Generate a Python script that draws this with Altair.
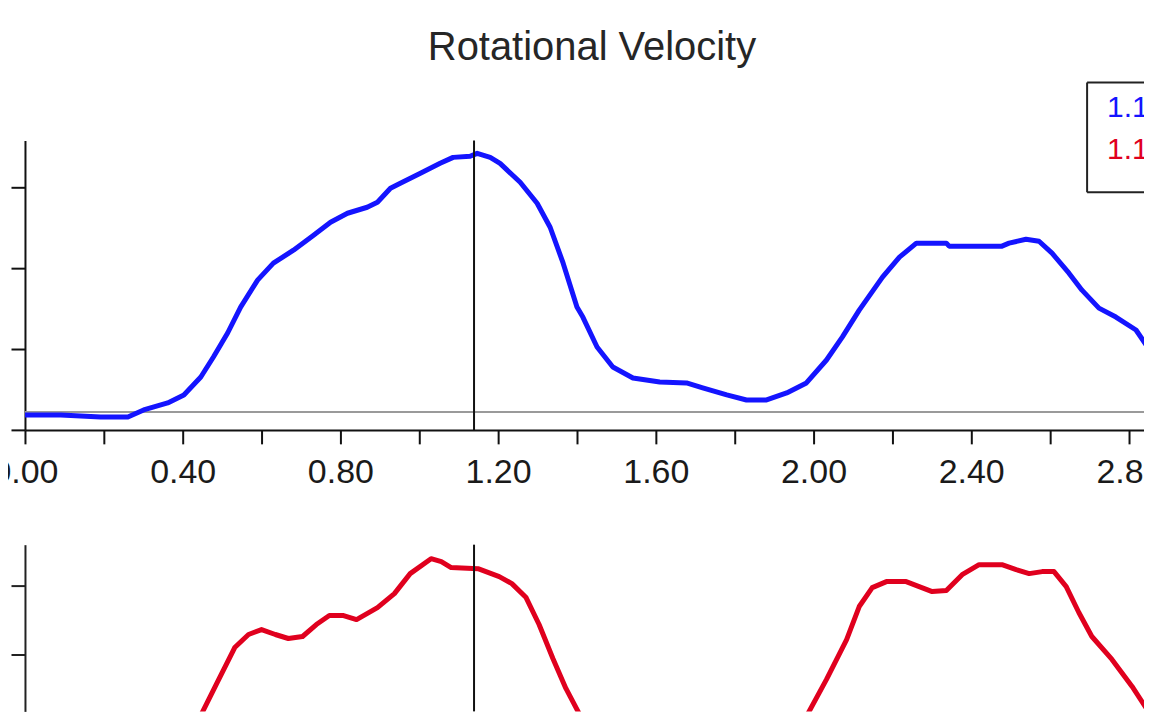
import altair as alt
import pandas as pd

# ---- data ----
blue_t = [0.000, 0.091, 0.192, 0.261, 0.301, 0.362, 0.403, 0.446, 0.478, 0.514, 0.547, 0.590,
          0.630, 0.681, 0.732, 0.775, 0.818, 0.868, 0.894, 0.927, 0.952, 1.003, 1.053, 1.086,
          1.129, 1.147, 1.180, 1.205, 1.256, 1.299, 1.332, 1.365, 1.400, 1.415, 1.451, 1.491,
          1.542, 1.610, 1.678, 1.719, 1.780, 1.830, 1.881, 1.932, 1.982, 2.033, 2.073, 2.116,
          2.175, 2.218, 2.261, 2.337, 2.344, 2.478, 2.496, 2.539, 2.572, 2.605, 2.648, 2.681,
          2.724, 2.767, 2.818, 2.856]
blue_v = [18.5, 18.5, 16.0, 16.0, 24.7, 33.3, 43.2, 65.4, 90.1, 119.8, 151.9, 185.2,
          206.2, 222.2, 240.7, 256.8, 267.9, 275.3, 281.5, 298.8, 304.9, 317.3, 329.6, 337.0,
          338.3, 342.0, 337.0, 329.6, 306.2, 280.2, 250.6, 206.2, 151.9, 139.5, 102.5, 77.8,
          64.2, 59.3, 58.0, 51.9, 43.2, 37.0, 37.0, 45.7, 58.0, 86.4, 114.8, 148.1,
          188.9, 213.6, 230.9, 230.9, 227.2, 227.2, 230.9, 235.8, 233.3, 218.5, 193.8, 172.8,
          150.6, 139.5, 123.5, 96.3]

red_t = [0.446, 0.489, 0.532, 0.567, 0.600, 0.635, 0.668, 0.704, 0.739, 0.772, 0.808, 0.841,
         0.894, 0.937, 0.977, 1.030, 1.056, 1.081, 1.149, 1.203, 1.235, 1.271, 1.304, 1.339,
         1.372, 1.408,
         1.982, 2.033, 2.084, 2.116, 2.149, 2.185, 2.235, 2.268, 2.301, 2.337, 2.377, 2.420,
         2.478, 2.514, 2.547, 2.580, 2.610, 2.641, 2.673, 2.706, 2.757, 2.808, 2.851]
red_v = [11.6, 60.9, 110.1, 129.0, 136.2, 129.0, 123.2, 126.1, 143.5, 156.5, 156.5, 150.7,
         168.1, 188.4, 217.4, 239.1, 234.8, 226.1, 224.6, 213.0, 202.9, 182.6, 143.5, 94.2,
         50.7, 11.6,
         10.1, 63.8, 121.7, 169.6, 197.1, 205.8, 205.8, 198.6, 191.3, 192.8, 215.9, 230.4,
         230.4, 223.2, 217.4, 220.3, 220.3, 198.6, 160.9, 126.1, 92.8, 53.6, 15.9]
red_seg = [1] * 26 + [2] * 23

cursor_t = [1.139]
threshold_v = [22.2]
legend_labels = ["1.14", "1.14"]
legend_colors = ["#1414ff", "#e0001e"]

x_ticks = [round(i * 0.2, 1) for i in range(15)]
top_y_ticks = [0, 100, 200, 300]
bottom_y_ticks = [100, 200]

X_DOMAIN = [0, 2.856]
W = 1128
FONT = "Liberation Sans"

blue_df = pd.DataFrame({"t": blue_t, "v": blue_v})
red_df = pd.DataFrame({"t": red_t, "v": red_v, "seg": red_seg})
cursor_df = pd.DataFrame({"t": cursor_t})
thr_df = pd.DataFrame({"v": threshold_v})
leg_df = pd.DataFrame({"label": legend_labels, "color": legend_colors, "py": [-32, 10]})

x_top = alt.X("t:Q", scale=alt.Scale(domain=X_DOMAIN, nice=False, zero=False),
              axis=alt.Axis(values=x_ticks, title=None, grid=False,
                            labelExpr="round(datum.value*10) % 4 == 0 ? format(datum.value, '.2f') : ''",
                            labelFont=FONT, labelFontSize=34, labelColor="#1a1a1a",
                            labelPadding=12, tickSize=14, tickWidth=2, tickColor="#111",
                            domainColor="#111", domainWidth=2, labelOverlap=False,
                            labelFlush=False))
y_top_scale = alt.Scale(domain=[0, 358], nice=False, zero=False)
y_top_axis = alt.Axis(values=top_y_ticks, labels=False, title=None, grid=False,
                      tickSize=14, tickWidth=2, tickColor="#111",
                      domainColor="#111", domainWidth=2)

thr = alt.Chart(thr_df).mark_rule(color="#9a9a9a", strokeWidth=2).encode(
    y=alt.Y("v:Q", scale=y_top_scale, axis=y_top_axis))
blue = alt.Chart(blue_df).mark_line(color="#1414ff", strokeWidth=5, strokeJoin="round",
                                    clip=True).encode(
    x=x_top, y=alt.Y("v:Q", scale=y_top_scale, axis=y_top_axis))
cur_top = alt.Chart(cursor_df).mark_rule(color="#111", strokeWidth=2).encode(x="t:Q")

box_lines = alt.Chart(pd.DataFrame({"k": ["top", "bottom"], "yy": [-58, 52]})).mark_rule(
    color="#222", strokeWidth=2).encode(
    x=alt.value(1064), x2=alt.value(W + 2), y=alt.Y("yy:Q", scale=None))
box_left = alt.Chart(pd.DataFrame({"k": [0]})).mark_rule(color="#222", strokeWidth=2).encode(
    x=alt.value(1064), y=alt.value(-58), y2=alt.value(52))
leg_text = alt.Chart(leg_df).mark_text(font=FONT, fontSize=30, align="left",
                                       baseline="middle").encode(
    x=alt.value(1084), y=alt.Y("py:Q", scale=None),
    text="label:N", color=alt.Color("color:N", scale=None))

top = alt.layer(thr, blue, cur_top, box_lines, box_left, leg_text).properties(
    width=W, height=290,
    title=alt.Title("Rotational Velocity", font=FONT, fontSize=40, fontWeight="normal",
                    color="#262626", anchor="middle", frame="group", dx=4, offset=14))

x_bot = alt.X("t:Q", scale=alt.Scale(domain=X_DOMAIN, nice=False, zero=False), axis=None)
y_bot_scale = alt.Scale(domain=[17.4, 259.4], nice=False, zero=False)
y_bot_axis = alt.Axis(values=bottom_y_ticks, labels=False, title=None, grid=False,
                      tickSize=14, tickWidth=2, tickColor="#222",
                      domainColor="#222", domainWidth=2)
red = alt.Chart(red_df).mark_line(color="#e0001e", strokeWidth=5, strokeJoin="round",
                                  clip=True).encode(
    x=x_bot, y=alt.Y("v:Q", scale=y_bot_scale, axis=y_bot_axis), detail="seg:N")
cur_bot = alt.Chart(cursor_df).mark_rule(color="#111", strokeWidth=2).encode(x="t:Q")
bottom = alt.layer(red, cur_bot).properties(width=W, height=167)

chart = alt.vconcat(top, bottom, spacing=54).properties(
    padding={"left": -17, "right": -22, "top": 19, "bottom": 0},
    background="white",
).configure_view(stroke=None).configure_axis(grid=False)

chart.save("out.html", embed_options={"renderer": "svg", "actions": False})
